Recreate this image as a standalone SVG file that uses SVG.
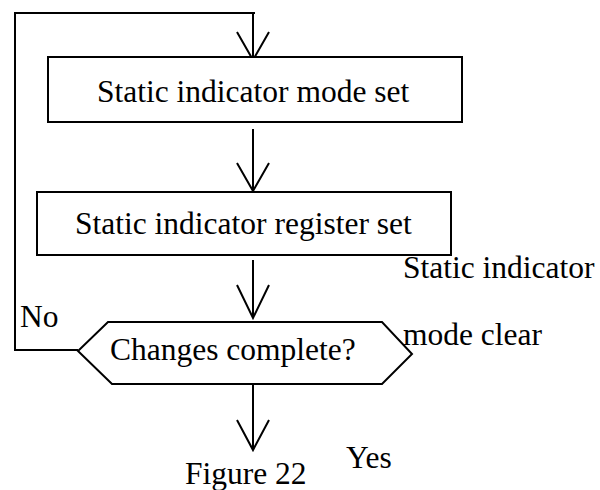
<svg xmlns="http://www.w3.org/2000/svg" width="600" height="490" viewBox="0 0 600 490">
  <style>
    .box { fill: #fff; stroke: #000; stroke-width: 2; }
    .line { fill: none; stroke: #000; stroke-width: 2; }
    .head { fill: none; stroke: #000; stroke-width: 2; stroke-linejoin: miter; }
    text { font-family: "Liberation Serif", "Times New Roman", serif; font-size: 31.5px; fill: #000; }
  </style>
  <rect width="600" height="490" fill="#fff"/>

  <!-- connectors -->
  <g id="connectors">
    <!-- "No" loop back to the top -->
    <polyline class="line" points="78,350 15,350 15,13 255,13"/>
    <line class="line" x1="253" y1="13" x2="253" y2="60"/>
    <polyline class="head" points="237,32 253,60 269,32"/>
    <!-- mode set -> register set -->
    <line class="line" x1="253" y1="129" x2="253" y2="191"/>
    <polyline class="head" points="237,163 253,191 269,163"/>
    <!-- register set -> decision -->
    <line class="line" x1="253" y1="260" x2="253" y2="318"/>
    <polyline class="head" points="237,285 253,318 269,285"/>
    <!-- decision -> exit -->
    <line class="line" x1="253" y1="385" x2="253" y2="450"/>
    <polyline class="head" points="237,420 253,450 269,420"/>
  </g>

  <g id="node-mode-set">
    <rect class="box" x="48" y="57" width="414" height="65"/>
    <text x="97" y="102">Static indicator mode set</text>
  </g>

  <g id="node-register-set">
    <rect class="box" x="37" y="192" width="414" height="63"/>
    <text x="75" y="234">Static indicator register set</text>
  </g>

  <g id="node-decision">
    <polygon class="box" points="108,322 382,322 412,354 382,384 112,384 78,351"/>
    <text x="110" y="360">Changes complete?</text>
  </g>

  <g id="labels">
    <text x="20" y="327">No</text>
    <text x="403" y="278">Static indicator</text>
    <text x="403" y="345">mode clear</text>
    <text x="346" y="468">Yes</text>
    <text x="185" y="484">Figure 22</text>
  </g>
</svg>
